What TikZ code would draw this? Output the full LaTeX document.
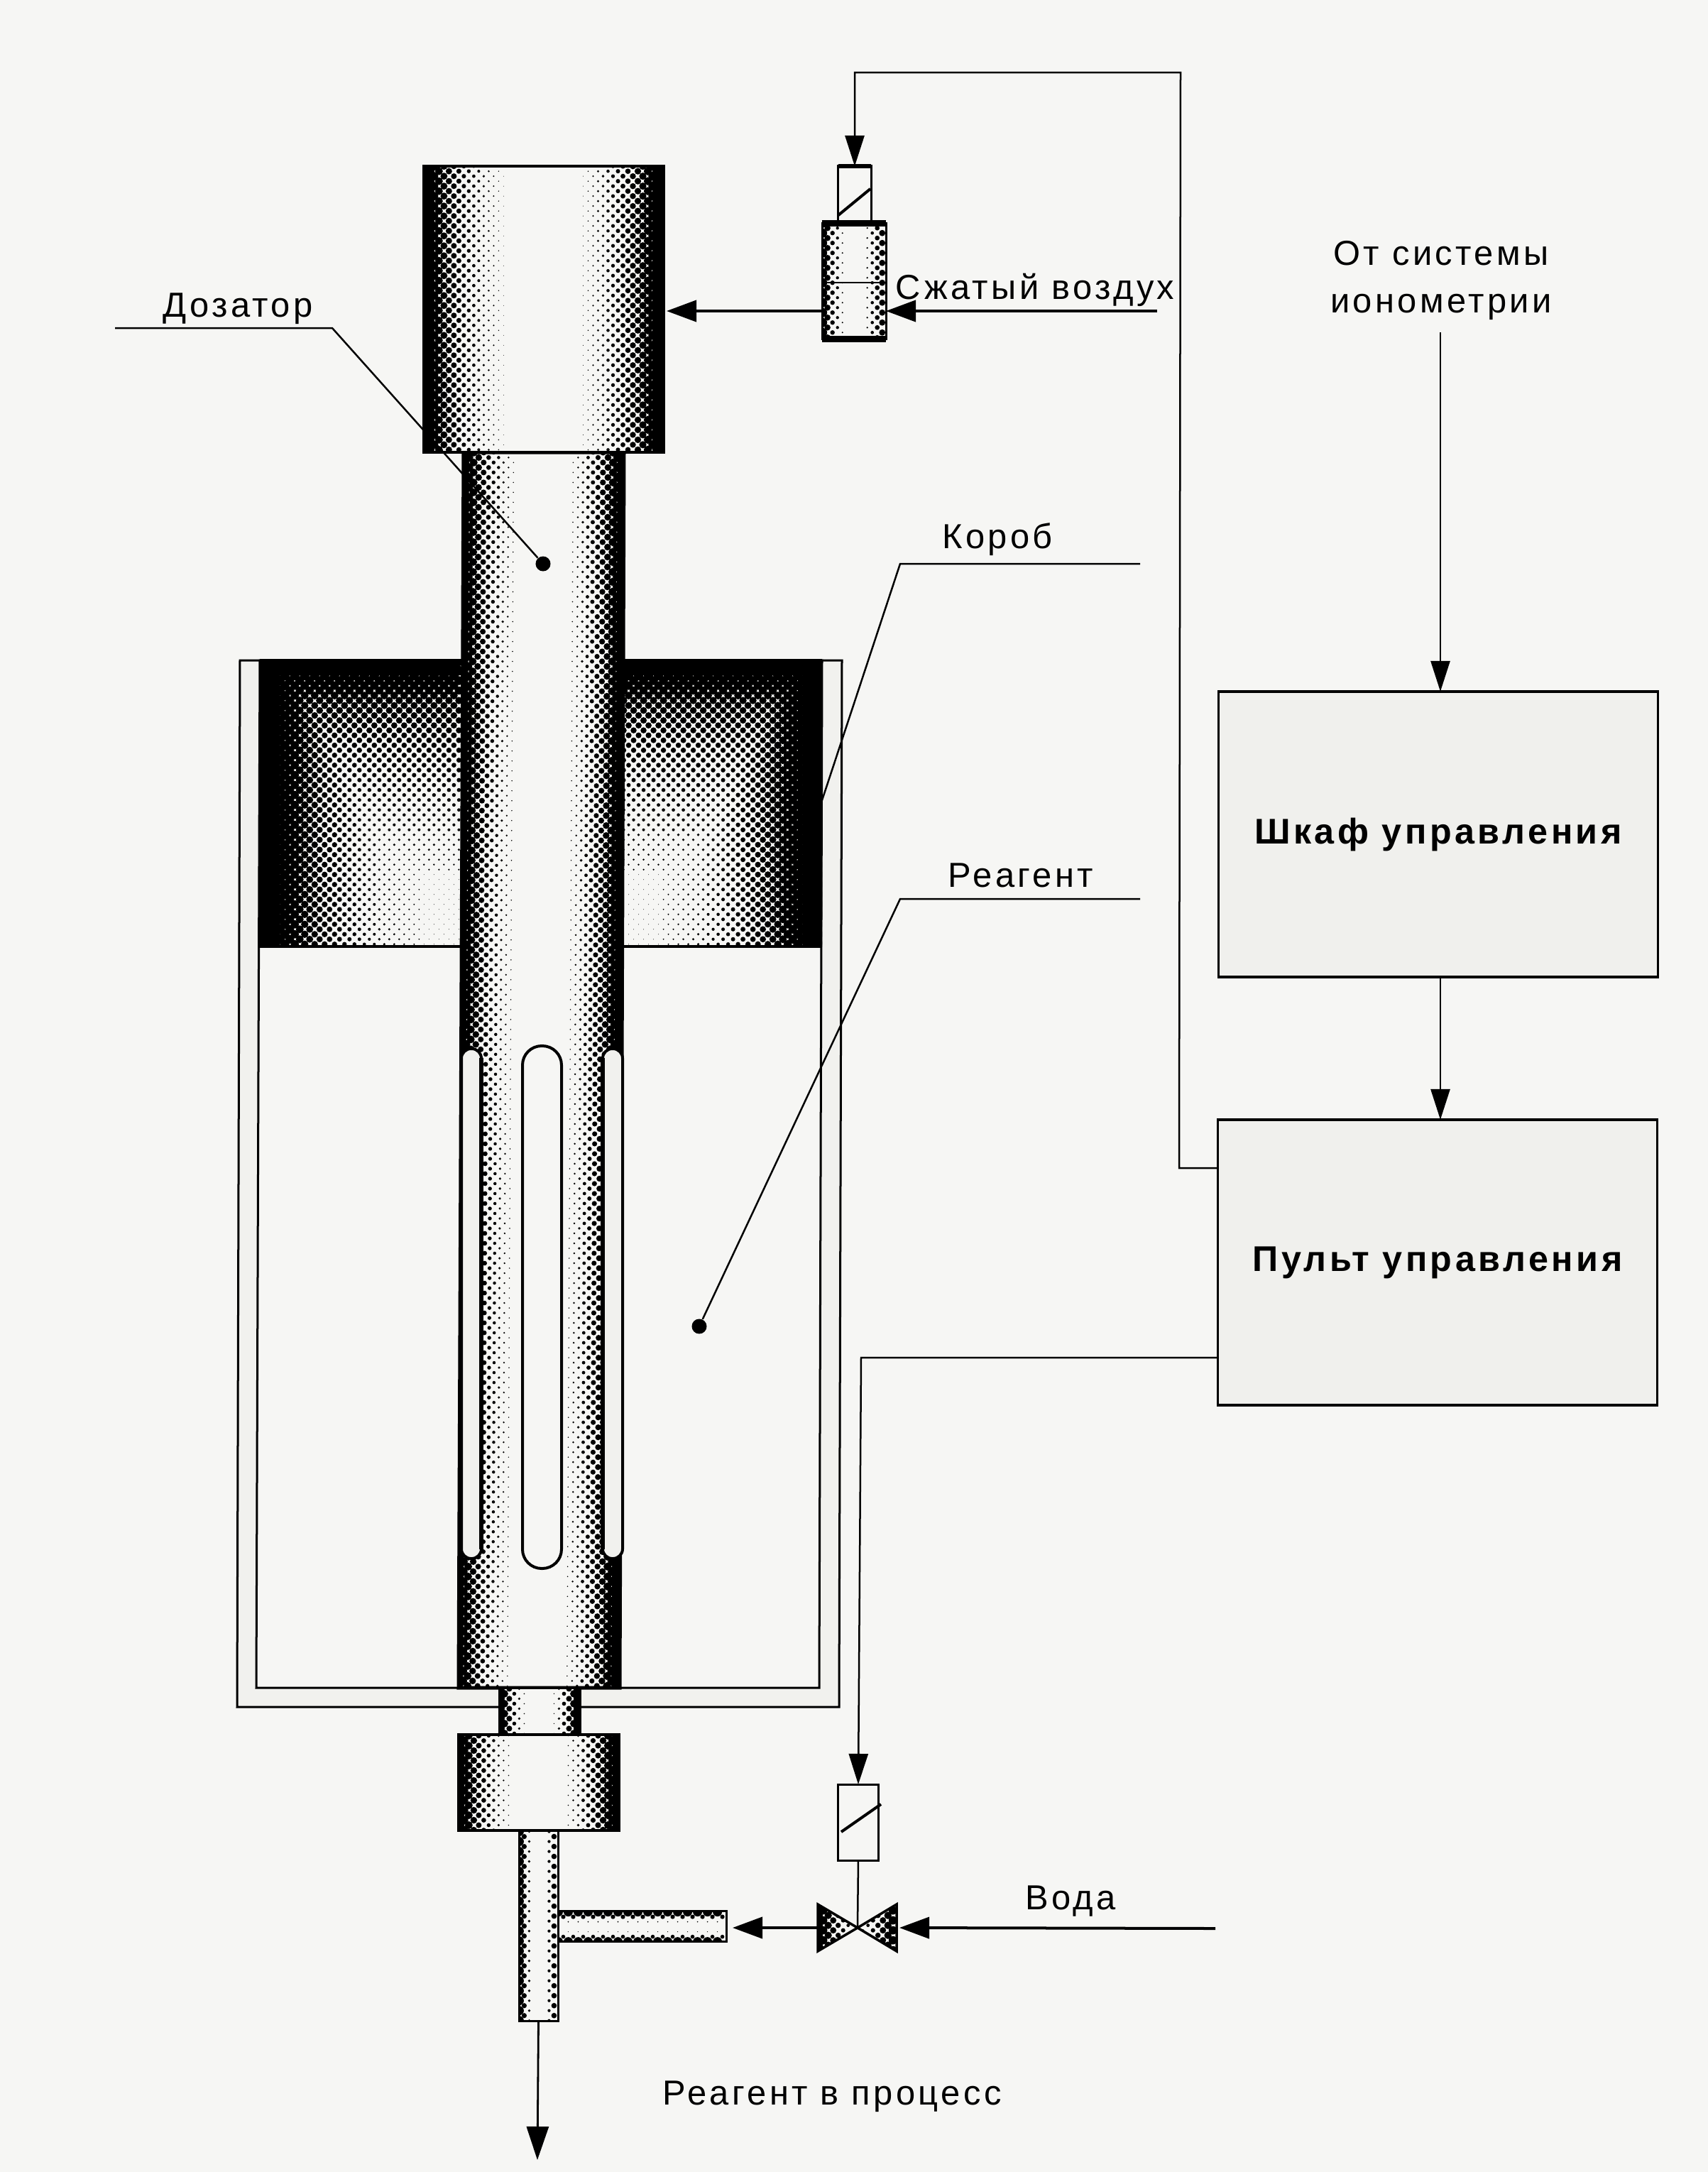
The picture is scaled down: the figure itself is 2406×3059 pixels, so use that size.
\documentclass[tikz,border=0pt]{standalone}
\usepackage{fontspec}
\setmainfont[LetterSpace=9]{Liberation Sans}
\usetikzlibrary{arrows.meta}
\definecolor{paper}{rgb}{0.965,0.965,0.955}
\definecolor{wallc}{rgb}{0.945,0.945,0.935}
\definecolor{panelc}{rgb}{0.94,0.94,0.93}
% ---- halftone screen: staggered dots, radius in px*100 from a profile ----
\newcount\htX \newcount\htY \newcount\htr \newcount\htt \newcount\htv \newcount\htC
\newcount\htskew \newcount\htd \newcount\htq
\def\LR#1#2#3#4#5{\numexpr#3+(#4-#3)*(#5-#1)/(#2-#1)\relax}
\def\htzone#1#2#3#4#5{\def\hA{#1}\def\hB{#2}\def\hC{#3}\def\hD{#4}\let\hprof#5\htX=#1\relax\htC=0\relax\pgfsetfillcolor{black}\htcols}
\def\htcols{\ifnum\htX>\hC\relax\else\htonecol\advance\htX by 7\relax\advance\htC by 1\relax\expandafter\htcols\fi}
\def\htonecol{\htY=\hB\relax\ifodd\htC\advance\htY by 7\relax\fi
  \htt=\numexpr(\htX-\hA)*1000/(\hC-\hA)\relax
  \loop\ifnum\htY<\hD\relax
    \htv=\numexpr(\htY-\hB)*1000/(\hD-\hB)\relax
    \hprof
    \ifnum\htr>25\relax
      \pgfpathcircle{\pgfqpoint{\the\numexpr(\htX*100+(\htY-\hB)*\htskew/10)*18647/100\relax sp}{-\the\numexpr\htY*18647\relax sp}}{\the\numexpr\htr*186\relax sp}%
    \fi
    \advance\htY by 14\relax
  \repeat
  \pgfusepath{fill}}
\def\tubeprof{%
 \ifnum\htt<25\relax \htr=750\relax
 \else\ifnum\htt<80\relax \htr=\LR{25}{80}{640}{500}{\htt}%
 \else\ifnum\htt<180\relax \htr=\LR{80}{180}{500}{280}{\htt}%
 \else\ifnum\htt<320\relax \htr=\LR{180}{320}{280}{70}{\htt}%
 \else\ifnum\htt<350\relax \htr=\LR{320}{350}{70}{0}{\htt}%
 \else\ifnum\htt<660\relax \htr=0\relax
 \else\ifnum\htt<790\relax \htr=\LR{660}{790}{50}{270}{\htt}%
 \else\ifnum\htt<900\relax \htr=\LR{790}{900}{270}{480}{\htt}%
 \else\ifnum\htt<965\relax \htr=\LR{900}{965}{480}{660}{\htt}%
 \else \htr=750\relax \fi\fi\fi\fi\fi\fi\fi\fi\fi}
\def\symprof#1{\htd=#1\relax\ifnum\htd>500\relax\htd=\numexpr1000-\htd\relax\fi
 \ifnum\htd<60\relax\htr=650\relax\else\ifnum\htd<350\relax\htr=\LR{60}{350}{450}{60}{\htd}\else\htr=0\relax\fi\fi}
\def\pipeprof{\symprof{\htt}}
\def\pipevprof{\symprof{\htv}}
\def\bowlprof{\htr=\LR{0}{1000}{650}{100}{\htt}}
\def\bowrprof{\htr=\LR{0}{1000}{100}{650}{\htt}}
\def\blockcore{% \htd = distance from outer edge, in px
 \ifnum\htd<25\relax\htq=750\relax
 \else\ifnum\htd<80\relax\htq=\LR{25}{80}{680}{450}{\htd}%
 \else\ifnum\htd<150\relax\htq=\LR{80}{150}{450}{220}{\htd}%
 \else\ifnum\htd<230\relax\htq=\LR{150}{230}{220}{90}{\htd}%
 \else\htq=50\relax\fi\fi\fi\fi
 \htd=\numexpr\htY-\hB\relax
 \ifnum\htd<14\relax\htr=750\relax
 \else\ifnum\htd<60\relax\htr=\LR{14}{60}{680}{500}{\htd}%
 \else\ifnum\htd<120\relax\htr=\LR{60}{120}{500}{380}{\htd}%
 \else\ifnum\htd<200\relax\htr=\LR{120}{200}{380}{250}{\htd}%
 \else\ifnum\htd<300\relax\htr=\LR{200}{300}{250}{120}{\htd}%
 \else\htr=40\relax\fi\fi\fi\fi\fi
 \ifnum\htq>\htr\relax\htr=\htq\relax\fi}
\def\blocklprof{\htd=\numexpr\htX-\hA\relax\blockcore}
\def\blockrprof{\htd=\numexpr\hC-\htX\relax\blockcore}
% cylinder part: named node with a screened body; args name,x0,y0,x1,y1,profile,line width
\newcommand{\cylpart}[7]{%
  \node[draw=black,fill=paper,inner sep=0,outer sep=0,line width=#7,
        minimum width={(#4-#2)*0.01cm},minimum height={(#5-#3)*0.01cm}] (#1) at ({(#2+#4)/2},{(#3+#5)/2}) {};
  \begin{scope}\clip (#2,#3) rectangle (#4,#5);\htzone{#2}{#3}{#4}{#5}{#6}\end{scope}
  \draw[black,line width=#7] (#1.south west) rectangle (#1.north east);}
\tikzset{
  thinln/.style={line width=0.025cm,black},
  medln/.style={line width=0.04cm,black},
  sig/.style={line width=0.025cm,black,-{Triangle[length=0.43cm,width=0.27cm]}},
  flow/.style={line width=0.04cm,black,-{Triangle[length=0.42cm,width=0.30cm]}},
  panel/.style={draw=black,line width=0.035cm,fill=panelc,inner sep=0,outer sep=0,font=\fontsize{14.3}{18}\selectfont\bfseries},
  solbox/.style={draw=black,line width=0.03cm,inner sep=0,outer sep=0},
  lbl/.style={font=\fontsize{13.9}{19.3}\selectfont,inner sep=0,align=center},
  dotn/.style={circle,fill=black,inner sep=0,minimum size=0.21cm},
  slot/.style={draw=black,line width=0.04cm,fill=wallc}
}
\begin{document}
\begin{tikzpicture}[x=0.01cm,y=-0.01cm]
\useasboundingbox (0,0) rectangle (2406,3059);
\fill[paper] (0,0) rectangle (2406,3059);

% reagent housing
\fill[wallc,draw=black,line width=0.03cm] (338,930) -- (1186,930) -- (1182,2404) -- (334,2404) -- cycle;
\fill[paper,draw=black,line width=0.03cm] (366,930) -- (1158,930) -- (1154,2377) -- (361,2377) -- cycle;

% float block
\begin{scope}\clip (366,930) rectangle (652,1333);\htzone{366}{930}{652}{1333}{\blocklprof}\end{scope}
\begin{scope}\clip (878,930) rectangle (1158,1333);\htzone{878}{930}{1158}{1333}{\blockrprof}\end{scope}
\draw[medln] (366,1333) -- (652,1333) (878,1333) -- (1158,1333);
\draw[medln] (366,930) -- (652,930) (878,930) -- (1158,930);

% dosing tube
\path[fill=paper] (653,637) -- (879,637) -- (873,2377) -- (646,2377) -- cycle;
\begin{scope}
  \clip (653,637) -- (879,637) -- (873,2377) -- (646,2377) -- cycle;
  \htskew=-5\relax\htzone{653}{637}{879}{2377}{\tubeprof}\htskew=0\relax
\end{scope}
\draw[black,line width=0.05cm] (653,637) -- (879,637) -- (873,2377) -- (646,2377) -- cycle;
\draw[slot,rounded corners=0.135cm] (650,2195) -- (650,1477) -- (678,1477) -- (678,2195) -- cycle;
\draw[slot,rounded corners=0.135cm] (849,2195) -- (849,1477) -- (877,1477) -- (877,2195) -- cycle;
\draw[slot,fill=paper,rounded corners=0.27cm] (736,2209) -- (736,1473) -- (791,1473) -- (791,2209) -- cycle;
\draw[black,line width=0.06cm] (678,1490) -- (678,2182) (849,1490) -- (849,2182);

% cap, neck, collar, pipes
\cylpart{cap}{597}{234}{935}{637}{\tubeprof}{0.04cm}
\cylpart{neck}{703}{2377}{817}{2443}{\tubeprof}{0.03cm}
\cylpart{collar}{646}{2443}{872}{2578}{\tubeprof}{0.04cm}
\cylpart{pipe}{731}{2578}{786}{2846}{\pipeprof}{0.03cm}
\cylpart{branch}{786}{2691}{1023}{2734}{\pipevprof}{0.03cm}

% air valve
\node[solbox,minimum width=0.46cm,minimum height=0.80cm] (airsol) at (1204,274) {};
\draw[medln,line width=0.06cm] (airsol.north west) -- (airsol.north east);
\cylpart{airvalve}{1158}{314}{1248}{477}{\pipeprof}{0.03cm}
\draw[medln,line width=0.09cm] (airvalve.north west) -- (airvalve.north east);
\draw[medln,line width=0.09cm] (airvalve.south west) -- (airvalve.south east);
\draw[thinln] (1158,398) -- (1248,398);
\draw[medln] (1181,303) -- (1226,266);

% water valve
\node[solbox,minimum width=0.56cm,minimum height=1.07cm] (watersol) at (1209,2566.5) {};
\draw[medln] (1185,2580) -- (1241,2541);
\coordinate (bowc) at (1208,2715);
\coordinate (bowl) at (1152,2715);
\coordinate (bowr) at (1263,2715);
\begin{scope}\clip (1152,2682) -- (1208,2715) -- (1152,2748) -- cycle;\htzone{1152}{2682}{1208}{2748}{\bowlprof}\end{scope}
\begin{scope}\clip (1263,2682) -- (1208,2715) -- (1263,2748) -- cycle;\htzone{1208}{2682}{1263}{2748}{\bowrprof}\end{scope}
\draw[black,line width=0.035cm] (1152,2682) -- (1208,2715) -- (1152,2748) -- cycle;
\draw[black,line width=0.035cm] (1263,2682) -- (1208,2715) -- (1263,2748) -- cycle;
\draw[thinln] (watersol.south) -- (bowc);

% control panels
\node[panel,minimum width=6.19cm,minimum height=4.02cm] (shkaf) at (2026,1175) {\raisebox{-0.02cm}{Шкаф управления}};
\node[panel,minimum width=6.19cm,minimum height=4.02cm] (pult) at (2025,1778) {\raisebox{-0.06cm}{Пульт управления}};

% labels
\node[lbl] (sys) at (2030,395) {От системы\\ионометрии};
\node[lbl] (air) at (1458,408) {Сжатый воздух};
\node[lbl] (doz) at (335,435) {Дозатор};
\node[lbl] (korob) at (1405,760) {Короб};
\node[lbl] (reag) at (1438,1233) {Реагент};
\node[lbl] (voda) at (1508,2678) {Вода};
\node[lbl] (proc) at (1172,2953) {Реагент в процесс};

% signal connectors
\coordinate (sysend) at (2029,468);
\draw[sig] (sysend) -- (shkaf.north -| sysend);
\draw[sig] (shkaf.south -| sysend) -- (pult.north -| sysend);
\coordinate (p1) at (1715,1645);
\coordinate (p2) at (1661,1645);
\coordinate (p3) at (1663,102);
\coordinate (p4) at (1204,102);
\draw[sig] (p1) -- (p2) -- (p3) -- (p4) -- (airsol.north);
\coordinate (q1) at (1715,1912);
\coordinate (q2) at (1213,1912);
\draw[sig] (q1) -- (q2) -- (watersol.north);

% flow connectors
\coordinate (airsrc) at (1630,438);
\draw[flow] (airsrc) -- (airvalve.east |- airsrc);
\draw[flow] (airvalve.west |- airsrc) -- ([xshift=0.04cm]cap.east |- airsrc);
\coordinate (watersrc) at (1712,2716);
\draw[flow] (watersrc) -- ([xshift=0.04cm]bowr);
\draw[flow] (bowl) -- ([xshift=0.09cm]branch.east |- bowl);
\coordinate (outend) at (757,3042);
\draw[thinln,line width=0.028cm,-{Triangle[length=0.47cm,width=0.31cm]}] (pipe.south) -- (outend);

% leaders
\node[dotn] (dot1) at (765,794) {};
\node[dotn] (dot2) at (985,1868) {};
\coordinate (l1a) at (162,462);
\coordinate (l1b) at (468,462);
\draw[thinln] (l1a) -- (l1b) -- (dot1);
\coordinate (l2a) at (1606,794);
\coordinate (l2b) at (1268,794);
\coordinate (l2c) at (1157,1130);
\draw[thinln] (l2a) -- (l2b) -- (l2c);
\coordinate (l3a) at (1606,1266);
\coordinate (l3b) at (1268,1266);
\draw[thinln] (l3a) -- (l3b) -- (dot2);
\end{tikzpicture}
\end{document}
